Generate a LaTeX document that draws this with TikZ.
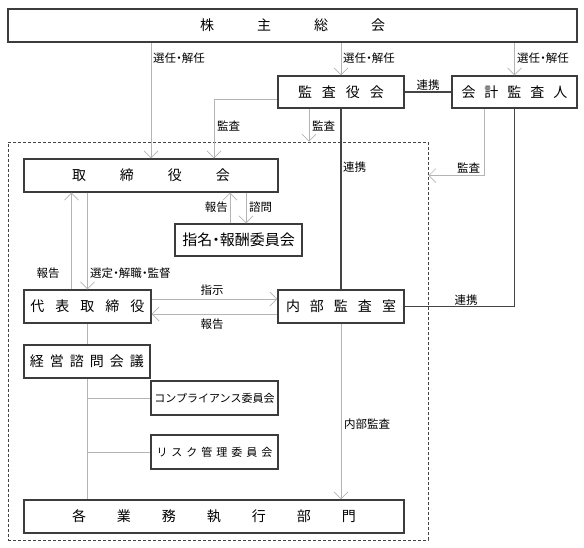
\documentclass[tikz,border=0pt]{standalone}
\usepackage{fontspec}
\setmainfont{Noto Sans CJK JP}
\usetikzlibrary{arrows.meta}
\definecolor{boxline}{HTML}{3C3C3C}
\definecolor{gline}{HTML}{B4B4B4}
\definecolor{dline}{HTML}{444444}
\newcommand{\gp}[1]{\hspace{#1pt}}
\newcommand{\nd}{\makebox[0.5em][c]{・}}
\tikzset{
  box/.style={draw=boxline, line width=1.1pt, fill=white, inner sep=0pt, font=\fontsize{14}{16}\selectfont},
  lbl/.style={inner sep=0pt, font=\fontsize{11.5}{13}\selectfont},
  garrow/.style={draw=gline, line width=0.9pt, -{Straight Barb[length=7pt,width=14pt,line width=0.7pt]}},
  gplain/.style={draw=gline, line width=0.9pt},
  dplain/.style={draw=dline, line width=1.1pt},
}
\begin{document}
\begin{tikzpicture}[x=1pt,y=-1pt]
\useasboundingbox (0,0) rectangle (584,548);
% dashed frame
\node[draw=dline, dashed, dash pattern=on 3pt off 2pt, line width=0.8pt, minimum width=420pt, minimum height=398pt, inner sep=0pt] (dbox) at (218,341) {};
% boxes
\node[box, minimum width=569pt, minimum height=33pt] (top) at (292.5,25.5) {株\gp{43}主\gp{43}総\gp{43}会};
\node[box, minimum width=126pt, minimum height=32pt] (kansa) at (341,92) {監\gp{10}査\gp{10}役\gp{10}会};
\node[box, minimum width=125pt, minimum height=32pt] (kaikei) at (514.5,92) {会\gp{9}計\gp{9}監\gp{9}査\gp{9}人};
\node[box, minimum width=254pt, minimum height=33pt] (tori) at (151,175.5) {取\gp{34}締\gp{34}役\gp{34}会};
\node[box, minimum width=127pt, minimum height=32pt, font=\fontsize{15}{17}\selectfont] (shimei) at (238.5,240) {指名\nd 報酬委員会};
\node[box, minimum width=127pt, minimum height=33pt] (daihyo) at (87.5,306.5) {代\gp{11}表\gp{11}取\gp{11}締\gp{11}役};
\node[box, minimum width=126pt, minimum height=33pt] (naibu) at (341,306.5) {内\gp{10}部\gp{10}監\gp{10}査\gp{10}室};
\node[box, minimum width=126pt, minimum height=33pt] (keiei) at (87,361.5) {経\gp{6}営\gp{6}諮\gp{6}問\gp{6}会\gp{6}議};
\node[box, minimum width=127pt, minimum height=34pt, font=\fontsize{11}{13}\selectfont] (comp) at (214.5,398) {コンプライアンス委員会};
\node[box, minimum width=127pt, minimum height=34pt, font=\fontsize{11}{13}\selectfont] (risk) at (214.5,452) {リ\gp{4}ス\gp{4}ク\gp{4}管\gp{4}理\gp{4}委\gp{4}員\gp{4}会};
\node[box, minimum width=380pt, minimum height=33pt] (kakugyo) at (214,516.5) {各\gp{31}業\gp{31}務\gp{31}執\gp{31}行\gp{31}部\gp{31}門};
% connectors from top
\draw[garrow] (top.south -| tori.north) -- (tori.north);
\draw[garrow] (top.south -| kansa.north) -- (kansa.north);
\draw[garrow] (top.south -| kaikei.north) -- (kaikei.north);
% kansa - kaikei
\draw[dplain] (kansa.east) -- (kaikei.west);
% kansa -> tori
\draw[garrow] ([yshift=-7pt]kansa.west) -| ([xshift=63pt]tori.north);
% kansa -> dbox
\draw[garrow] ([xshift=-32pt]kansa.south) -- ([xshift=-32pt]kansa.south |- dbox.north);
% kansa - naibu
\draw[dplain] (kansa.south) -- (naibu.north);
% kaikei -> dbox
\coordinate (kin) at ([yshift=-34pt]dbox.north east);
\draw[garrow] ([xshift=-30.5pt]kaikei.south) |- (kin);
% kaikei - naibu
\draw[dplain] (kaikei.south) |- (naibu.east);
% tori <-> daihyo
\draw[garrow] ([xshift=-16pt]daihyo.north) -- ([xshift=-16pt]daihyo.north |- tori.south);
\draw[garrow] (daihyo.north |- tori.south) -- (daihyo.north);
% tori <-> shimei
\draw[garrow] ([xshift=-8.5pt]shimei.north) -- ([xshift=-8.5pt]shimei.north |- tori.south);
\draw[garrow] ([xshift=7.5pt]shimei.north |- tori.south) -- ([xshift=7.5pt]shimei.north);
% daihyo <-> naibu
\draw[garrow] ([yshift=7.5pt]daihyo.east) -- ([yshift=7.5pt]naibu.west);
\draw[garrow] ([yshift=-7.5pt]naibu.west) -- ([yshift=-7.5pt]daihyo.east);
% executive line
\draw[gplain] (daihyo.south) -- (daihyo.south |- keiei.north);
\draw[gplain] (daihyo.south |- keiei.south) -- (daihyo.south |- kakugyo.north);
\draw[gplain] (daihyo.south |- comp.west) -- (comp.west);
\draw[gplain] (daihyo.south |- risk.west) -- (risk.west);
% internal audit
\draw[garrow] (naibu.south) -- (naibu.south |- kakugyo.north);
% labels
\node[lbl, anchor=west] (l1) at (153,58) {選任\nd 解任};
\node[lbl, anchor=west] (l2) at (343,58) {選任\nd 解任};
\node[lbl, anchor=west] (l3) at (517,58) {選任\nd 解任};
\node[lbl] (l4) at (428,85) {連携};
\node[lbl, anchor=west] (l5) at (217,126) {監査};
\node[lbl, anchor=west] (l6) at (312,126) {監査};
\node[lbl, anchor=west] (l7) at (343,167) {連携};
\node[lbl, anchor=west] (l8) at (457,168) {監査};
\node[lbl, anchor=east] (l9) at (228,207) {報告};
\node[lbl, anchor=west] (l10) at (249,207) {諮問};
\node[lbl] (l11) at (48,273) {報告};
\node[lbl, anchor=west] (l12) at (90,273) {選定\nd 解職\nd 監督};
\node[lbl] (l13) at (212,290) {指示};
\node[lbl] (l14) at (212,324) {報告};
\node[lbl] (l15) at (466,300) {連携};
\node[lbl, anchor=west] (l16) at (344,424) {内部監査};
\end{tikzpicture}
\end{document}
